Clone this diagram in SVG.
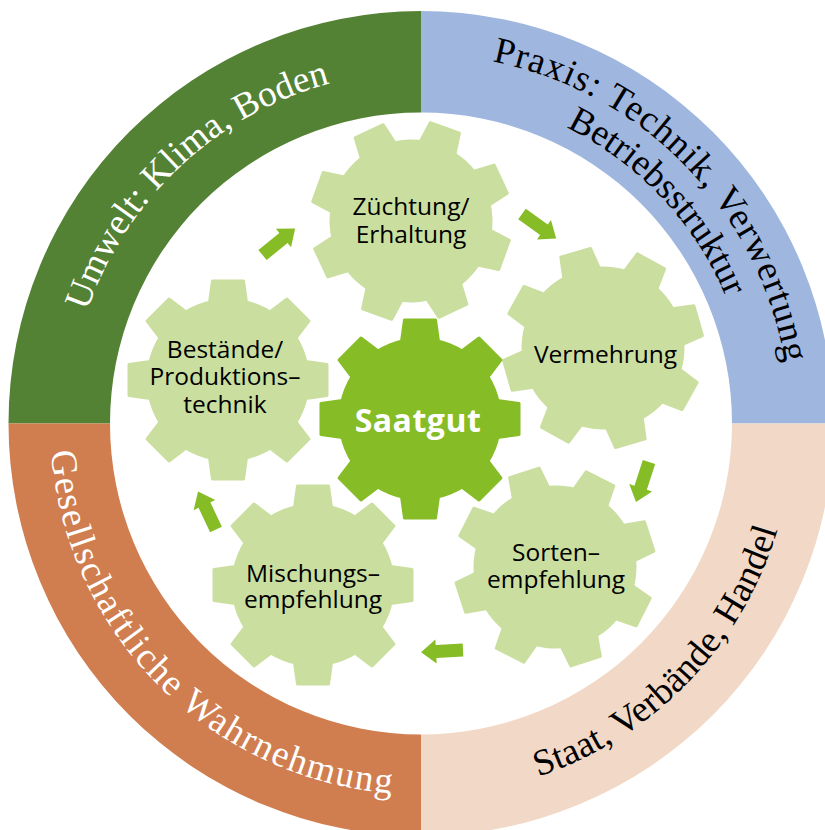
<svg xmlns="http://www.w3.org/2000/svg" xmlns:xlink="http://www.w3.org/1999/xlink" width="825" height="830" viewBox="0 0 825 830">
  <style>
    .ring-text { font-family: "Liberation Serif", "Times New Roman", serif; font-size: 37px; }
    .wide { letter-spacing: 1px; }
    .wider { letter-spacing: 1.6px; }
    .white { fill: #ffffff; }
    .dark { fill: #000000; }
    .gear-light { fill: #CADF9F; stroke: #CADF9F; stroke-width: 3; stroke-linejoin: round; }
    .gear-main { fill: #86BC25; stroke: #86BC25; stroke-width: 3; stroke-linejoin: round; }
    .label { font-family: "Open Sans", "Noto Sans", sans-serif; font-size: 24.5px; fill: #000000; text-anchor: middle; }
    .center-label { font-family: "Open Sans", "Noto Sans", sans-serif; font-size: 32px; font-weight: bold; fill: #ffffff; text-anchor: middle; letter-spacing: 0.5px; }
    .arrow { fill: #86BC25; }
  </style>
  <defs>
    <!-- one tooth pointing along +x -->
    <path id="tooth" d="M74,-19 L99,-15.5 L99,15.5 L74,19 Z"/>
    <!-- eight-tooth gear centred on the origin -->
    <g id="gear">
      <circle r="80"/>
      <use xlink:href="#tooth"/>
      <use xlink:href="#tooth" transform="rotate(45)"/>
      <use xlink:href="#tooth" transform="rotate(90)"/>
      <use xlink:href="#tooth" transform="rotate(135)"/>
      <use xlink:href="#tooth" transform="rotate(180)"/>
      <use xlink:href="#tooth" transform="rotate(225)"/>
      <use xlink:href="#tooth" transform="rotate(270)"/>
      <use xlink:href="#tooth" transform="rotate(315)"/>
    </g>
    <!-- block arrow, tail at origin, tip at +42 -->
    <path id="arrowShape" d="M0,-6.5 L27,-6.5 L27,-12 L42,0 L27,12 L27,6.5 L0,6.5 Z"/>
    <!-- baselines for the ring captions -->
    <path id="arcUmwelt" d="M69,423.5 A352,352 0 0 1 421,71.5"/>
    <path id="arcPraxisOuter" d="M421,54.5 A369,369 0 0 1 790,423.5"/>
    <path id="arcPraxisInner" d="M421,93.5 A330,330 0 0 1 751,423.5"/>
    <path id="arcGesell" d="M50,423.5 A371,371 0 0 0 421,794.5"/>
    <path id="arcStaat" d="M421,795.5 A372,372 0 0 0 793,423.5"/>
  </defs>

  <rect width="825" height="830" fill="#ffffff"/>

  <!-- outer ring, four quarters -->
  <g id="ring">
    <g id="q-umwelt">
      <path d="M8.5,423.5 A412.5,412.5 0 0 1 421,11 L421,112.5 A311,311 0 0 0 110,423.5 Z" fill="#548235"/>
      <text class="ring-text white"><textPath xlink:href="#arcUmwelt" startOffset="52%" text-anchor="middle">Umwelt: Klima, Boden</textPath></text>
    </g>
    <g id="q-praxis">
      <path d="M421,11 A412.5,412.5 0 0 1 833.5,423.5 L732,423.5 A311,311 0 0 0 421,112.5 Z" fill="#9FB6DF"/>
      <text class="ring-text dark wide"><textPath xlink:href="#arcPraxisOuter" startOffset="51%" text-anchor="middle">Praxis: Technik, Verwertung</textPath></text>
      <text class="ring-text dark"><textPath xlink:href="#arcPraxisInner" startOffset="52%" text-anchor="middle">Betriebsstruktur</textPath></text>
    </g>
    <g id="q-staat">
      <path d="M833.5,423.5 A412.5,412.5 0 0 1 421,836 L421,734.5 A311,311 0 0 0 732,423.5 Z" fill="#F2D8C6"/>
      <text class="ring-text dark"><textPath xlink:href="#arcStaat" startOffset="51%" text-anchor="middle">Staat, Verbände, Handel</textPath></text>
    </g>
    <g id="q-gesellschaft">
      <path d="M421,836 A412.5,412.5 0 0 1 8.5,423.5 L110,423.5 A311,311 0 0 0 421,734.5 Z" fill="#D07E4F"/>
      <text class="ring-text white wider"><textPath xlink:href="#arcGesell" startOffset="50%" text-anchor="middle">Gesellschaftliche Wahrnehmung</textPath></text>
    </g>
  </g>

  <!-- cycle arrows -->
  <g id="connectors">
    <use xlink:href="#arrowShape" class="arrow" transform="translate(262.5,255) rotate(-39)"/>
    <use xlink:href="#arrowShape" class="arrow" transform="translate(522,214) rotate(35.5)"/>
    <use xlink:href="#arrowShape" class="arrow" transform="translate(649,462) rotate(108)"/>
    <use xlink:href="#arrowShape" class="arrow" transform="translate(463,650) rotate(177)"/>
    <use xlink:href="#arrowShape" class="arrow" transform="translate(216,529.5) rotate(244.7)"/>
  </g>

  <g id="zuechtung">
    <use xlink:href="#gear" class="gear-light" transform="translate(411,221) rotate(20)"/>
    <text class="label" x="411" y="215">Züchtung/</text>
    <text class="label" x="411" y="243">Erhaltung</text>
  </g>

  <g id="vermehrung">
    <use xlink:href="#gear" class="gear-light" transform="translate(603,348) rotate(29)"/>
    <text class="label" x="605.5" y="363">Vermehrung</text>
  </g>

  <g id="sorten">
    <use xlink:href="#gear" class="gear-light" transform="translate(555,567) rotate(27)"/>
    <text class="label" x="556" y="561">Sorten–</text>
    <text class="label" x="556" y="588">empfehlung</text>
  </g>

  <g id="mischung">
    <use xlink:href="#gear" class="gear-light" transform="translate(313,585)"/>
    <text class="label" x="313" y="582">Mischungs–</text>
    <text class="label" x="313" y="608">empfehlung</text>
  </g>

  <g id="bestaende">
    <use xlink:href="#gear" class="gear-light" transform="translate(228,380)"/>
    <text class="label" x="225" y="358">Bestände/</text>
    <text class="label" x="225" y="385">Produktions–</text>
    <text class="label" x="225" y="413">technik</text>
  </g>

  <g id="saatgut">
    <use xlink:href="#gear" class="gear-main" transform="translate(420,419)"/>
    <text class="center-label" x="418" y="432">Saatgut</text>
  </g>
</svg>
